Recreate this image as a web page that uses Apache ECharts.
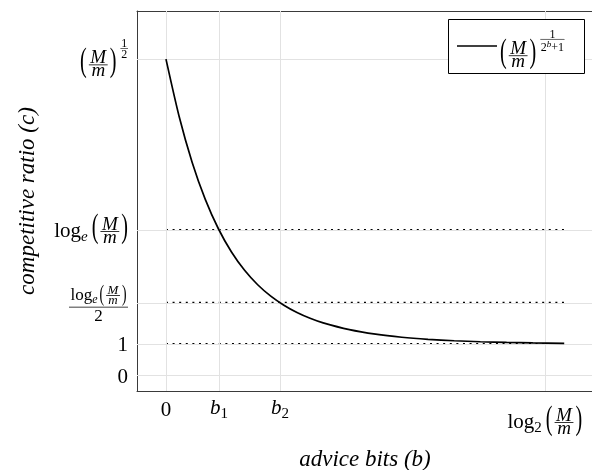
<!DOCTYPE html>
<html><head><meta charset="utf-8">
<script src="https://cdn.jsdelivr.net/npm/echarts@6/dist/echarts.min.js"></script>
<style>html,body{margin:0;padding:0;background:#fff}#c{width:592px;height:470px}</style>
</head><body><div id="c"></div>
<script>
// ---------------- data ----------------
const xTickValues = [0, 1.011, 2.177, 7.23];
const xTickLabels = ['0', 'b_1', 'b_2', 'log_2(M/m)'];
const yTickValues = [0, 1, 2.303, 4.605, 10];
const yTickLabels = ['0', '1', 'log_e(M/m)/2', 'log_e(M/m)', '(M/m)^(1/2)'];
const adviceBits = [0, 0.25, 0.5, 0.75, 1, 1.25, 1.5, 1.75, 2, 2.25, 2.5, 2.75, 3, 3.5, 4, 4.5, 5, 5.5, 6, 6.5, 7, 7.6];
const competitiveRatio = [10.0, 8.196, 6.736, 5.569, 4.642, 3.908, 3.330, 2.873, 2.512, 2.226, 1.997, 1.815, 1.668, 1.454, 1.311, 1.215, 1.150, 1.105, 1.073, 1.052, 1.036, 1.024];
const refLevels = [1, 2.303, 4.605];
const refRange = [0, 7.6];
const seriesName = '(M/m)^(1/(2^b+1))';
const xAxisName = 'advice bits (b)';
const yAxisName = 'competitive ratio (c)';

// ---------------- layout / style ----------------
const FF = '"Liberation Serif","Times New Roman",serif';
const GRID = {left: 137, top: 11, width: 456, height: 380};
const X_RANGE = [-0.553, 8.149];
const Y_RANGE = [-0.483, 11.52];
const S = 21;   // main label size
const FS = 19;  // fraction letters in labels

const cv = document.createElement('canvas').getContext('2d');
function font(sz, it) { return (it ? 'italic ' : '') + sz + 'px ' + FF; }
function metrics(s, sz, it) {
  cv.font = font(sz, it);
  cv.textBaseline = 'alphabetic';
  const m = cv.measureText(s);
  cv.textBaseline = 'middle';
  const mm = cv.measureText(s);
  return {w: m.width, asc: m.actualBoundingBoxAscent, desc: m.actualBoundingBoxDescent,
          mid: m.actualBoundingBoxAscent - mm.actualBoundingBoxAscent};
}
function textEl(s, sz, it, x, y, k) {
  const e = {type: 'text', x: x, y: y, silent: true, z: 100,
    style: {text: s, font: font(sz, it), fill: '#000', align: 'left', verticalAlign: 'middle',
            textAlign: 'left', textVerticalAlign: 'middle'}};
  if (k) { e.scaleX = k; }
  return e;
}
function T(s, sz, it) {
  const m = metrics(s, sz, it);
  return {w: m.w, h: Math.max(m.asc, 0), d: Math.max(m.desc, 0),
    draw(x, b, out) { out.push(textEl(s, sz, it, x, b - m.mid)); }};
}
function H(...bs) {
  return {w: bs.reduce((a, b) => a + b.w, 0), h: Math.max(...bs.map(b => b.h)), d: Math.max(...bs.map(b => b.d)),
    draw(x, b, out) { let cx = x; bs.forEach(bx => { bx.draw(cx, b, out); cx += bx.w; }); }};
}
function Kern(w) { return {w: w, h: 0, d: 0, draw() {}}; }
function Shift(bx, dy) {
  return {w: bx.w, h: bx.h - dy, d: bx.d + dy, draw(x, b, out) { bx.draw(x, b + dy, out); }};
}
function Frac(num, den, axis, gN, gD, pad, lw) {
  const w = Math.max(num.w, den.w) + 2 * pad;
  return {w: w, h: axis + gN + num.d + num.h, d: -axis + gD + den.h + den.d,
    draw(x, b, out) {
      const by = b - axis;
      num.draw(x + (w - num.w) / 2, by - gN - num.d, out);
      den.draw(x + (w - den.w) / 2, by + gD + den.h, out);
      out.push({type: 'rect', silent: true, z: 100, shape: {x: x, y: by - lw / 2, width: w, height: lw}, style: {fill: '#000'}});
    }};
}
function Paren(bx, ext, k, gap) {
  const pm = metrics('(', 100, false);
  const top = bx.h + ext, bot = bx.d + ext;
  const P = (top + bot) / ((pm.asc + pm.desc) / 100);
  const lm = metrics('(', P, false), rm = metrics(')', P, false);
  const wl = lm.w * k, wr = rm.w * k;
  return {w: wl + gap + bx.w + gap + wr, h: top, d: bot,
    draw(x, b, out) {
      const gb = b + bot - lm.desc;
      out.push(textEl('(', P, false, x, gb - lm.mid, k));
      bx.draw(x + wl + gap, b, out);
      out.push(textEl(')', P, false, x + wl + gap + bx.w + gap, gb - rm.mid, k));
    }};
}
function ParenMm(fs, axis, ext) {
  return Paren(Frac(T('M', fs, true), T('m', fs, true), axis, 1.5, 2.5, 1.5, 0.8), ext, 0.6, 2);
}
function mathBox(label) {
  switch (label) {
    case '0': case '1': return T(label, S, false);
    case 'b_1': case 'b_2': return H(T('b', S, true), Shift(T(label.slice(2), 15, false), 4));
    case 'log_e(M/m)': return H(T('log', S, false), Shift(T('e', 15, true), 4), Kern(4), ParenMm(FS, 5.5, 2.5));
    case 'log_2(M/m)': return H(T('log', S, false), Shift(T('2', 15, false), 4), Kern(4), ParenMm(FS, 5.5, 2.5));
    case 'log_e(M/m)/2':
      return Frac(H(T('log', 17, false), Shift(T('e', 12, true), 3), Kern(2), ParenMm(13, 4, 1.5)),
                  T('2', 17, false), 5.5, 1.5, 3, 1.5, 0.8);
    case '(M/m)^(1/2)':
      return H(ParenMm(FS, 5.5, 2.5), Kern(4), Shift(Frac(T('1', 12, false), T('2', 12, false), 3, 1, 1.5, 0.8, 0.6), -19));
    case '(M/m)^(1/(2^b+1))':
      return H(ParenMm(FS, 5.5, 2.5), Kern(4), Shift(Frac(T('1', 12, false),
               H(T('2', 12, false), Shift(T('b', 9, true), -4.5), T('+1', 12, false)), 3, 1, 1.5, 0.5, 0.6), -19));
  }
  return T(label, S, false);
}

// ---------------- chart ----------------
const chart = echarts.init(document.getElementById('c'), null, {renderer: 'canvas'});
const axisCommon = {
  type: 'value', splitLine: {show: false}, axisLabel: {show: false},
  axisLine: {show: true, onZero: false, lineStyle: {color: '#3a3a3a', width: 1}},
};
const titleStyle = {fontFamily: FF, fontStyle: 'italic', fontSize: 23, color: '#000'};
const option = {
  animation: false,
  backgroundColor: '#fff',
  grid: {left: GRID.left, top: GRID.top, width: GRID.width, height: GRID.height,
         containLabel: false, outerBoundsMode: 'none'},
  xAxis: [
    Object.assign({}, axisCommon, {position: 'bottom', min: X_RANGE[0], max: X_RANGE[1],
      axisTick: {show: true, inside: true, length: 5, customValues: xTickValues, lineStyle: {color: '#a8a8a8'}},
      name: xAxisName, nameLocation: 'middle', nameGap: 57, nameTextStyle: titleStyle}),
    Object.assign({}, axisCommon, {position: 'top', min: X_RANGE[0], max: X_RANGE[1],
      axisTick: {show: true, inside: true, length: 5, customValues: xTickValues, lineStyle: {color: '#a8a8a8'}}})
  ],
  yAxis: [
    Object.assign({}, axisCommon, {position: 'left', min: Y_RANGE[0], max: Y_RANGE[1],
      axisTick: {show: true, inside: true, length: 5, customValues: yTickValues, lineStyle: {color: '#a8a8a8'}},
      name: yAxisName, nameLocation: 'middle', nameGap: 98, nameTextStyle: titleStyle}),
    Object.assign({}, axisCommon, {position: 'right', min: Y_RANGE[0], max: Y_RANGE[1],
      axisTick: {show: false}})
  ],
  series: [
    {type: 'line', name: 'grid', data: [], silent: true, z: 1,
     markLine: {silent: true, symbol: 'none', animation: false, label: {show: false},
       lineStyle: {color: '#e2e2e2', width: 1, type: 'solid'},
       data: xTickValues.map(v => ({xAxis: v})).concat(yTickValues.map(v => ({yAxis: v})))}},
    ...refLevels.map(v => ({type: 'line', name: 'ref', data: [[refRange[0], v], [refRange[1], v]],
      showSymbol: false, silent: true, z: 3,
      lineStyle: {color: '#000', width: 2, type: [2, 4.6]}})),
    {type: 'line', name: seriesName, data: adviceBits.map((b, i) => [b, competitiveRatio[i]]),
     showSymbol: false, smooth: 0.25, z: 5, lineStyle: {color: '#000', width: 1.7}}
  ]
};
chart.setOption(option);

// ---------------- tick labels & legend (typeset math) ----------------
const els = [];
yTickValues.forEach((v, i) => {
  const p = chart.convertToPixel({xAxisIndex: 0, yAxisIndex: 0}, [0, v]);
  const bx = mathBox(yTickLabels[i]);
  const x = GRID.left - 9 - bx.w;
  const b = p[1] + (bx.h - bx.d) / 2;
  bx.draw(x, b, els);
});
xTickValues.forEach((v, i) => {
  const p = chart.convertToPixel({xAxisIndex: 0, yAxisIndex: 0}, [v, 0]);
  const bx = mathBox(xTickLabels[i]);
  const cy = (i === xTickValues.length - 1) ? GRID.top + GRID.height + 30 : GRID.top + GRID.height + 17.5;
  bx.draw(p[0] - bx.w / 2, cy + (bx.h - bx.d) / 2, els);
});
// legend
const LG = {x: 448, y: 19, w: 136, h: 54};
els.push({type: 'rect', silent: true, z: 90, shape: {x: LG.x + 0.5, y: LG.y + 0.5, width: LG.w, height: LG.h},
  style: {fill: '#fff', stroke: '#000', lineWidth: 1}});
els.push({type: 'line', silent: true, z: 95, shape: {x1: LG.x + 9, y1: LG.y + 27, x2: LG.x + 49, y2: LG.y + 27},
  style: {stroke: '#000', lineWidth: 1.6}});
const lb = mathBox(seriesName);
lb.draw(LG.x + 52, LG.y + 31 + (lb.h - lb.d) / 2, els);
chart.setOption({graphic: {elements: els}});
</script>
</body></html>
